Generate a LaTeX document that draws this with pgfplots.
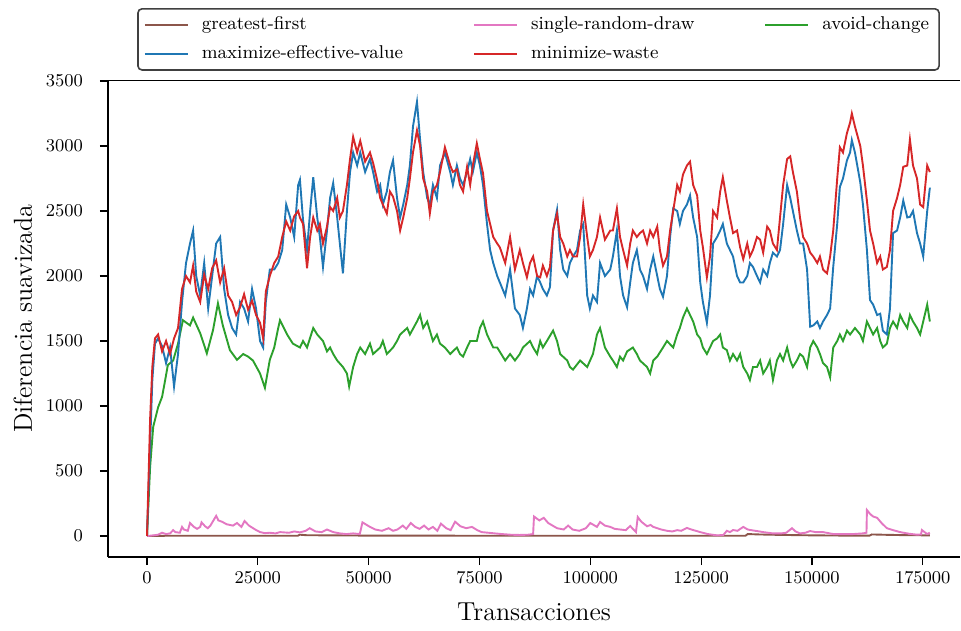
\documentclass[border=0pt]{standalone}
\usepackage{pgfplots}
\pgfplotsset{compat=1.18}
\usetikzlibrary{calc}

\definecolor{tabbrown}{HTML}{8C564B}
\definecolor{tabblue}{HTML}{1F77B4}
\definecolor{tabpink}{HTML}{E377C2}
\definecolor{tabred}{HTML}{D62728}
\definecolor{tabgreen}{HTML}{2CA02C}

\begin{document}
\begin{tikzpicture}
\begin{axis}[
  name=ax,
  scale only axis,
  width=426pt, height=238.25pt,
  xmin=-8800, xmax=183400,
  ymin=-161.5, ymax=3504,
  axis x line*=box, axis y line*=left,
  xtick pos=bottom, ytick pos=left,
  tick align=outside, major tick length=4pt,
  xtick={0,25000,...,175000},
  ytick={0,500,...,3500},
  scaled x ticks=false, scaled y ticks=false,
  xticklabel style={/pgf/number format/.cd, fixed, 1000 sep={}},
  yticklabel style={/pgf/number format/.cd, fixed, 1000 sep={}, /tikz/xshift=-5pt},
  tick label style={font=\fontsize{9.25}{11}\selectfont},
  label style={font=\fontsize{13}{15}\selectfont},
  xlabel style={yshift=-2.5pt},
  xlabel={Transacciones},
  ylabel={Diferencia suavizada},
  axis line style={line width=0.6pt},
  every tick/.style={line width=0.6pt, black},
  legend columns=3,
  legend cell align=left,
  legend image code/.code={\draw[#1] (0pt,0pt) -- (21.5pt,0pt); \path (26pt,0pt);},
  legend style={at={(0.5053,1.152)}, anchor=north,
    font=\fontsize{9.25}{11}\selectfont,
    draw=black!75, line width=0.8pt, rounded corners=2pt,
    inner xsep=3pt, inner ysep=2pt, row sep=2.5pt,
    /tikz/every even column/.append style={column sep=33pt}},
  every axis plot/.append style={line width=0.95pt},
]

\addplot[color=tabbrown] coordinates {
(0,0) (5000,2) (20000,2) (34000,2) (34500,10) (36000,6) (50000,3) (80000,2) (110000,2)
(135000,2) (135500,15) (138000,12) (142000,9) (150000,5) (158000,3) (163000,3) (163500,12)
(167000,9) (172000,6) (176600,5)};
\addlegendentry{greatest-first}

\addplot[color=tabpink] coordinates {
(0,0) (1500,5) (2500,10) (3400,25) (4300,15) (5200,20) (5900,45) (6400,30) (7400,25)
(7900,70) (8300,50) (9200,40) (9700,100) (10600,70) (11300,55) (12000,70) (12300,105)
(13100,75) (13700,60) (14300,80) (15600,155) (16100,120) (16900,110) (18000,90) (19400,80)
(20300,100) (21300,70) (22000,115) (23000,80) (24400,50) (25500,30) (26600,22) (27700,25)
(29000,20) (30000,30) (32000,25) (33200,35) (34500,28) (35800,40) (36700,60) (38000,35)
(39400,30) (40600,50) (42000,30) (43500,20) (45000,15) (46500,20) (48000,15) (48600,105)
(50300,70) (51500,50) (53000,40) (54500,60) (55500,40) (56500,50) (57700,80) (58500,55)
(59500,100) (60500,70) (61500,55) (62500,80) (63500,50) (64500,70) (65500,40) (66300,95)
(67500,60) (68500,45) (69500,110) (70700,75) (72000,60) (73300,70) (74500,45) (75500,30)
(77000,25) (78500,20) (80000,15) (82000,10) (84000,8) (86000,10) (87100,15) (87300,150)
(88500,120) (89500,140) (90500,100) (91500,80) (92500,60) (94000,50) (95000,80) (96000,50)
(97500,40) (99000,60) (100000,100) (101500,70) (102200,108) (103300,80) (104500,70)
(105500,55) (106700,50) (108000,45) (109000,77) (110300,30) (110700,146) (111500,110)
(112800,75) (113600,85) (114200,70) (116000,50) (117300,40) (118500,35) (119600,45)
(120500,40) (121800,62) (122800,50) (124800,30) (126500,15) (128600,5) (130000,8)
(130800,40) (131500,30) (132200,46) (133200,40) (134500,70) (135500,50) (136300,45)
(137600,38) (139000,30) (141200,20) (143000,20) (144200,25) (145500,60) (146300,35)
(147300,20) (148500,25) (149600,38) (150800,30) (152500,30) (154800,15) (157000,15)
(159300,15) (161500,20) (162300,25) (162400,200) (163100,170) (163800,150) (164700,140)
(165700,100) (166900,60) (168300,45) (169900,30) (171800,18) (173700,10) (174600,12)
(174800,46) (175400,30) (176000,15) (176600,25)};
\addlegendentry{single-random-draw}

\addplot[color=tabgreen] coordinates {
(0,0) (700,530) (1400,840) (2500,990) (3400,1070) (4100,1200) (4700,1315) (5900,1350)
(7000,1480) (8100,1660) (9700,1620) (10400,1680) (12000,1560) (13500,1405) (14900,1585)
(16000,1790) (17100,1620) (18700,1430) (20300,1355) (21700,1400) (22800,1380) (23900,1350)
(25500,1250) (26600,1140) (27700,1355) (28700,1450) (29600,1600) (30000,1660) (31600,1550)
(32900,1480) (34500,1450) (35200,1500) (36100,1450) (37500,1600) (38400,1550) (39700,1500)
(40600,1420) (41300,1450) (42000,1400) (42900,1350) (44200,1300) (45100,1250) (45600,1150)
(46500,1300) (47400,1400) (48100,1450) (49200,1400) (50300,1480) (51000,1400) (52600,1450)
(53200,1500) (54100,1400) (55500,1450) (56400,1500) (57100,1550) (58700,1600) (59300,1550)
(60900,1650) (61600,1700) (62300,1600) (63200,1650) (64500,1500) (65400,1550) (66100,1480)
(67200,1450) (68400,1400) (69900,1450) (70600,1400) (71300,1380) (72200,1450) (72900,1500)
(74400,1500) (75100,1600) (75800,1650) (76700,1550) (77400,1500) (78100,1450) (79000,1450)
(80800,1350) (81900,1400) (83000,1350) (84100,1400) (84800,1450) (86400,1500) (87100,1450)
(88000,1400) (88700,1500) (89300,1450) (90200,1500) (91600,1580) (92500,1500) (93200,1400)
(94800,1350) (95400,1300) (96100,1280) (97700,1350) (99300,1300) (100600,1400) (101500,1550)
(102200,1600) (103300,1450) (104500,1380) (105100,1350) (106000,1300) (106700,1380)
(107400,1350) (108300,1420) (109600,1450) (110500,1400) (111200,1350) (112800,1300)
(113500,1250) (114200,1350) (115100,1380) (116400,1450) (117300,1500) (118700,1450)
(119600,1550) (120200,1600) (120900,1680) (121800,1750) (122500,1700) (123200,1650)
(124100,1550) (124800,1520) (125400,1450) (126300,1400) (127000,1450) (127700,1500)
(128600,1520) (129300,1550) (129900,1450) (130800,1430) (131500,1350) (132200,1400)
(133100,1350) (133800,1400) (134500,1300) (135400,1250) (136000,1200) (136700,1300)
(137600,1300) (138300,1350) (139000,1250) (139900,1300) (140500,1350) (141200,1200)
(142100,1350) (142800,1400) (143500,1350) (144400,1450) (145100,1350) (145700,1300)
(146600,1350) (147300,1400) (148000,1380) (148900,1300) (149600,1450) (150300,1500)
(151200,1450) (151800,1400) (152500,1330) (153400,1300) (154100,1220) (154800,1450)
(155700,1500) (156300,1550) (157000,1500) (157900,1580) (158600,1550) (159700,1600)
(160900,1550) (161500,1500) (162400,1650) (163100,1600) (163800,1550) (164700,1600)
(165400,1500) (166000,1450) (166900,1480) (167600,1600) (168300,1650) (169200,1600)
(169900,1700) (170600,1650) (171500,1600) (172100,1700) (172800,1650) (173700,1600)
(174400,1550) (175100,1650) (176000,1780) (176600,1650)};
\addlegendentry{avoid-change\hspace{10pt}}

\addplot[color=tabblue] coordinates {
(0,0) (700,700) (1200,1200) (1800,1480) (2500,1520) (3400,1460) (4300,1330) (5200,1450)
(6100,1150) (7000,1400) (7900,1800) (8800,2100) (9700,2250) (10400,2350) (11100,2000)
(12000,1850) (12900,2100) (13800,1750) (14700,2000) (15600,2250) (16500,2300) (17400,1900)
(18300,1700) (19200,1600) (20100,1550) (21000,1800) (21900,1750) (22800,1650) (23700,1900)
(24600,1750) (25500,1500) (26200,1450) (26800,1800) (27700,2050) (28700,2050) (29600,2100)
(30500,2200) (31400,2550) (32300,2450) (33200,2300) (34100,2700) (34500,2740) (35200,2430)
(36100,2200) (36800,2500) (37500,2760) (38400,2450) (39000,2300) (39700,2070) (40600,2350)
(41300,2600) (42000,2715) (42900,2450) (43500,2250) (44200,2020) (45100,2500) (45800,2800)
(46500,2950) (47400,2850) (48100,2950) (49200,2800) (50300,2900) (51000,2800) (51900,2650)
(52600,2700) (53200,2550) (54100,2650) (54800,2800) (55500,2890) (56400,2600) (57100,2450)
(57800,2550) (58700,2700) (59300,2850) (60000,3150) (60900,3340) (61600,3050) (62300,2800)
(63200,2600) (63800,2550) (64500,2700) (65400,2600) (66100,2850) (67200,2950) (68400,2800)
(69000,2700) (69900,2850) (70600,2750) (71300,2700) (72200,2800) (72900,2900) (73500,2800)
(74400,2950) (75100,2850) (75800,2700) (76700,2400) (77400,2200) (78100,2100) (79000,2000)
(79600,1950) (80800,1850) (81900,2050) (83000,1750) (84100,1700) (84800,1600) (85700,1750)
(86400,1900) (87100,1850) (88000,2000) (88700,1950) (89300,1900) (90200,1850) (90900,1915)
(91600,2350) (92500,2510) (93200,2200) (93900,2050) (94800,2000) (95400,2100) (96100,2150)
(97000,2200) (97700,2350) (98400,2400) (99300,1850) (99900,1750) (100600,1850) (101500,1800)
(102200,2100) (103300,2000) (104500,2050) (105100,2150) (106000,2350) (106700,2000)
(107400,1850) (108300,1760) (109000,1950) (109600,2100) (110500,2200) (111200,2050)
(111900,2000) (112800,1900) (113500,2050) (114200,2150) (115100,2000) (115700,1900)
(116400,1840) (117300,2000) (118000,2300) (118700,2520) (119600,2500) (120200,2400)
(120900,2500) (121800,2550) (122500,2620) (123200,2450) (124100,2300) (124800,1950)
(125400,1800) (126300,1640) (127000,1850) (127700,2250) (128600,2300) (129300,2350)
(129900,2400) (130800,2250) (131500,2200) (132200,2150) (133100,2000) (133800,1950)
(134500,1950) (135400,2000) (136000,2100) (136700,2070) (137600,2000) (138300,1950)
(139000,2050) (139900,2000) (140500,2100) (141200,2180) (142100,2150) (142800,2200)
(143500,2400) (144400,2700) (145100,2600) (145700,2500) (146600,2350) (147300,2250)
(148000,2250) (148900,2050) (149600,1610) (150300,1620) (151200,1650) (151800,1600)
(152500,1650) (153400,1700) (154100,1750) (154800,2070) (155700,2400) (156300,2685)
(157000,2750) (157900,2890) (158600,2950) (159000,3045) (159700,2950) (160900,2720)
(161500,2550) (162400,2200) (163100,1815) (163800,1780) (164700,1700) (165400,1710)
(166000,1580) (166900,1550) (167600,1750) (168300,2330) (169200,2350) (169900,2450)
(170600,2580) (171500,2450) (172100,2455) (172800,2500) (173700,2330) (174400,2250)
(175100,2150) (176000,2500) (176600,2680)};
\addlegendentry{maximize-effective-value}

\addplot[color=tabred] coordinates {
(0,0) (700,900) (1200,1300) (1800,1520) (2500,1550) (3400,1420) (4300,1500) (5200,1400)
(6100,1520) (7000,1600) (7900,1900) (8800,2000) (9700,1950) (10400,2080) (11100,1880)
(12000,1800) (12900,2010) (13800,1900) (14700,2060) (15600,2120) (16500,1950) (17400,2060)
(18300,1850) (19200,1800) (20100,1700) (21000,1760) (21900,1860) (22800,1740) (23700,1810)
(24600,1700) (25500,1640) (26200,1520) (26800,1880) (27700,2000) (28700,2100) (29600,2150)
(30500,2300) (31400,2420) (32300,2350) (33200,2460) (34100,2500) (34500,2450) (35200,2400)
(36100,2060) (36800,2300) (37500,2450) (38400,2350) (39000,2400) (39700,2250) (40600,2380)
(41300,2530) (42000,2500) (42900,2600) (43500,2450) (44200,2500) (45100,2700) (45800,2900)
(46500,3070) (47400,2950) (48100,3040) (49200,2880) (50300,2950) (51000,2870) (51900,2740)
(52600,2600) (53200,2550) (54100,2480) (54800,2650) (55500,2610) (56400,2500) (57100,2350)
(57800,2450) (58700,2600) (59300,2750) (60000,2950) (60900,3120) (61600,3000) (62300,2750)
(63200,2650) (63800,2480) (64500,2650) (65400,2700) (66100,2800) (67200,2990) (68400,2850)
(69000,2800) (69900,2820) (70600,2700) (71300,2650) (72200,2840) (72900,2700) (73500,2850)
(74400,3020) (75100,2900) (75800,2790) (76700,2500) (77400,2400) (78100,2300) (79000,2250)
(79600,2220) (80800,2100) (81900,2300) (83000,2050) (84100,2200) (84800,2100) (85700,1990)
(86400,2100) (87100,2150) (88000,2000) (88700,1990) (89300,2080) (90200,2000) (90900,2070)
(91600,2350) (92500,2480) (93200,2300) (93900,2250) (94800,2150) (95400,2200) (96100,2150)
(97000,2150) (97700,2300) (98400,2550) (99300,2300) (99900,2150) (100600,2200) (101500,2300)
(102200,2450) (103300,2280) (104500,2350) (105100,2350) (106000,2520) (106700,2300)
(107400,2200) (108300,2080) (109000,2250) (109600,2350) (110500,2300) (111200,2330)
(111900,2350) (112800,2250) (113500,2350) (114200,2300) (115100,2380) (115700,2200)
(116400,2080) (117300,2150) (118000,2350) (118700,2500) (119600,2700) (120200,2650)
(120900,2780) (121800,2850) (122500,2880) (123200,2700) (124100,2620) (124800,2350)
(125400,2220) (126300,1990) (127000,2150) (127700,2500) (128600,2450) (129300,2650)
(129900,2760) (130800,2580) (131500,2450) (132200,2330) (133100,2350) (133800,2220)
(134500,2130) (135400,2250) (136000,2150) (136700,2200) (137600,2300) (138300,2280)
(139000,2180) (139900,2380) (140500,2350) (141200,2250) (142100,2200) (142800,2450)
(143500,2700) (144400,2900) (145100,2920) (145700,2800) (146600,2650) (147300,2450)
(148000,2300) (148900,2250) (149600,2180) (150300,2150) (151200,2100) (151800,2150)
(152500,2050) (153400,2020) (154100,2150) (154800,2350) (155700,2750) (156300,2990)
(157000,2950) (157900,3100) (158600,3180) (159000,3250) (159700,3150) (160900,3000)
(161500,2850) (162400,2580) (163100,2350) (163800,2250) (164700,2100) (165400,2150)
(166000,2050) (166900,2070) (167600,2200) (168300,2500) (169200,2600) (169900,2700)
(170600,2840) (171500,2850) (172100,3050) (172800,2850) (173700,2750) (174400,2550)
(175100,2530) (176000,2850) (176600,2800)};
\addlegendentry{minimize-waste}
\end{axis}
\path ($(ax.south west)+(-54pt,-36.5pt)$) ($(ax.north east)+(0.5pt,40.25pt)$);
\end{tikzpicture}
\end{document}
